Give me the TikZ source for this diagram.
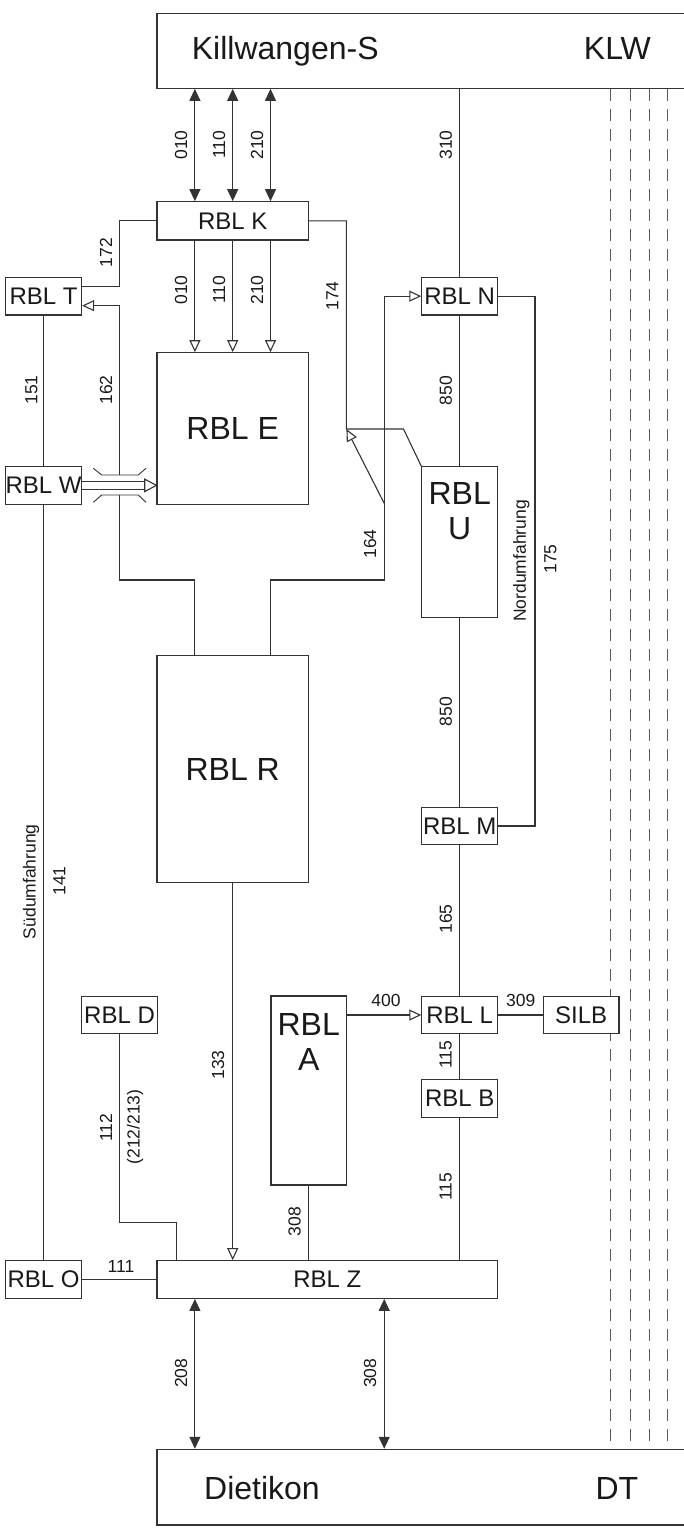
\documentclass[tikz,border=0pt]{standalone}
\usepackage{fontspec}
\setmainfont{Liberation Sans}
\usetikzlibrary{arrows.meta,calc}
\begin{document}
\begin{tikzpicture}[x=1pt,y=-1pt,
  ln/.style={line width=1.1pt, draw=black!80},
  box/.style={ln, rectangle, fill=white, inner sep=0pt, minimum width=75.9pt, minimum height=37.7pt, text=black!90, font=\fontsize{24}{28}\selectfont},
  big/.style={font=\fontsize{32}{36}\selectfont, inner sep=0pt, text=black!90},
  num/.style={font=\fontsize{17.5}{20}\selectfont, inner sep=0pt, text=black!90},
  vnum/.style={num, rotate=90},
  dbl/.style={ln, {Triangle[length=12pt,width=11pt]}-{Triangle[length=12pt,width=11pt]}},
  opn/.style={ln, -{Triangle[open,length=12pt,width=11pt]}},
  dsh/.style={line width=0.9pt, draw=black!65, dash pattern=on 12pt off 8pt},
]
\useasboundingbox (0,0) rectangle (684,1528);
\clip (0,0) rectangle (684,1528);
% column coordinates
\coordinate (c1) at (119.3,0);
\coordinate (c2) at (194.9,0);
\coordinate (c3) at (232.7,0);
\coordinate (c4) at (270.5,0);
\coordinate (c5) at (346.4,0);
\coordinate (c6) at (384.2,0);
\coordinate (c8) at (535,0);
\coordinate (d1) at (610.7,0);
\coordinate (d2) at (630,0);
\coordinate (d3) at (649,0);
\coordinate (d4) at (667.7,0);
% station boxes
\node[box, minimum width=563pt, minimum height=75pt] (KS) at (438.5,50.8) {};
\node[big, anchor=base west] (kst) at (191.7,59.3) {Killwangen-S};
\node[big, anchor=base west] (klw) at (583.7,59.3) {KLW};
\node[box, minimum width=563pt, minimum height=75.7pt] (DI) at (438.5,1487.15) {};
\node[big, anchor=base west] (dit) at (204,1499.3) {Dietikon};
\node[big, anchor=base west] (dtt) at (595.4,1499.3) {DT};
% dashed tracks
\draw[dsh] (KS.south -| d1) -- (DI.north -| d1);
\draw[dsh] (KS.south -| d2) -- (DI.north -| d2);
\draw[dsh] (KS.south -| d3) -- (DI.north -| d3);
\draw[dsh] (KS.south -| d4) -- (DI.north -| d4);
% blocks
\node[box, minimum width=151.4pt, minimum height=38.3pt] (K) at (232.7,220.85) {RBL K};
\node[box] (T) at (43.65,296.15) {RBL T};
\node[box] (N) at (459.75,296.15) {RBL N};
\node[box, minimum width=151.4pt, minimum height=151.6pt, font=\fontsize{32}{36}\selectfont] (E) at (232.7,428.5) {RBL E};
\node[box] (W) at (43.65,485.35) {RBL W};
\node[box, minimum height=151pt] (U) at (459.75,542.2) {};
\node[big, anchor=base] (ut1) at ($(U.north)+(0,38.5)$) {RBL};
\node[big, anchor=base] (ut2) at ($(U.north)+(0,73.5)$) {U};
\node[box, minimum width=151.4pt, minimum height=227pt, font=\fontsize{32}{36}\selectfont] (R) at (232.7,769.2) {RBL R};
\node[box] (M) at (459.75,826) {RBL M};
\node[box] (D) at (119.55,1015) {RBL D};
\node[box, minimum width=75.4pt, minimum height=189pt] (A) at (308.7,1090.5) {};
\node[big, anchor=base] (at1) at ($(A.north)+(0,40)$) {RBL};
\node[big, anchor=base] (at2) at ($(A.north)+(0,75)$) {A};
\node[box] (L) at (459.75,1015) {RBL L};
\node[box, minimum width=75.7pt] (S) at (581.15,1015) {SILB};
\node[box] (B) at (459.75,1098.3) {RBL B};
\node[box] (O) at (43.65,1279.5) {RBL O};
\node[box, minimum width=340.7pt] (Z) at (327.35,1279.5) {RBL Z};
% junction coordinates
\coordinate (j1) at (346.4,429);
\coordinate (j2) at (403.5,429);
\coordinate (s164) at (384.2,503.3);
\coordinate (b164) at (384.2,580);
\coordinate (b162) at (119.3,580);
\coordinate (br1) at (119.3,475);
\coordinate (br2) at (119.3,495);
\coordinate (b112) at (176.7,1222.7);
\path ($(T.east)+(0,-9.5)$) coordinate (t172);
\path ($(T.east)+(0,9.5)$) coordinate (t162);
% connectors top
\draw[dbl] (KS.south -| c2) -- (K.north -| c2);
\draw[dbl] (KS.south -| c3) -- (K.north -| c3);
\draw[dbl] (KS.south -| c4) -- (K.north -| c4);
\draw[ln] (KS.south -| N.north) -- (N.north);
\draw[opn] (K.south -| c2) -- (E.north -| c2);
\draw[opn] (K.south -| c3) -- (E.north -| c3);
\draw[opn] (K.south -| c4) -- (E.north -| c4);
\draw[ln] (K.west) -| (c1 |- t172) -- (t172);
\draw[ln] (K.east) -| (j1) -- (j2) -- (U.north west);
\draw[opn] (R.north -| c4) |- (b164) |- (N.west);
\draw[opn] (s164) -- (j1);
\draw[ln] (R.north -| c2) |- (b162) -- (br2);
\draw[opn] (br1) |- (t162);
% bridge
\draw[ln, line width=0.9pt] (93.3,468.3) -- (101.7,475) -- (138.3,475) -- (146,468.3);
\draw[ln, line width=0.9pt] (93.3,502.3) -- (101.7,495) -- (138.3,495) -- (146,502.3);
% double arrow W -> E
\path (W.east -| E.west) coordinate (wtip);
\draw[ln] ($(W.east)+(0,-4.15)$) -- ($(wtip)+(-11.7,-4.15)$);
\draw[ln] ($(W.east)+(0,4.15)$) -- ($(wtip)+(-11.7,4.15)$);
\draw[ln, line join=miter, fill=white] ($(wtip)+(-11.7,-6.2)$) -- (wtip) -- ($(wtip)+(-11.7,6.2)$) -- cycle;
% left column
\draw[ln] (T.south) -- (W.north);
\draw[ln] (W.south) -- (O.north);
% right column
\draw[ln] (N.south) -- (U.north);
\draw[ln] (U.south) -- (M.north);
\draw[ln] (M.south) -- (L.north);
\draw[ln] (L.south) -- (B.north);
\draw[ln] (B.south) -- (Z.north -| B.south);
\draw[ln] (N.east) -| (M.east -| c8) -- (M.east);
% bottom part
\draw[opn] (R.south) -- (Z.north -| R.south);
\draw[opn] (A.east |- L.west) -- (L.west);
\draw[ln] (L.east) -- (S.west);
\draw[ln] (A.south) -- (Z.north -| A.south);
\draw[ln] (D.south) |- (b112) -- (Z.north -| b112);
\draw[ln] (O.east) -- (Z.west);
\draw[dbl] (Z.south -| c2) -- (DI.north -| c2);
\draw[dbl] (Z.south -| c6) -- (DI.north -| c6);
% labels
\node[vnum] (l1) at (181,145) {010};
\node[vnum] (l2) at (219.2,145) {110};
\node[vnum] (l3) at (257,145) {210};
\node[vnum] (l4) at (445.8,145) {310};
\node[vnum] (l5) at (181,290) {010};
\node[vnum] (l6) at (219.2,290) {110};
\node[vnum] (l7) at (257,290) {210};
\node[vnum] (l8) at (106,252.5) {172};
\node[vnum] (l9) at (332.4,296) {174};
\node[vnum] (l10) at (31.5,390) {151};
\node[vnum] (l11) at (106,390) {162};
\node[vnum] (l12) at (445.8,390.7) {850};
\node[vnum] (l13) at (370,544) {164};
\node[vnum] (l14) at (521.3,561) {Nordumfahrung};
\node[vnum] (l15) at (550.5,559) {175};
\node[vnum] (l16) at (445.8,711.7) {850};
\node[vnum] (l17) at (31,881.7) {Südumfahrung};
\node[vnum] (l18) at (59.3,881) {141};
\node[vnum] (l19) at (445.8,919) {165};
\node[vnum] (l20) at (218,1065) {133};
\node[vnum] (l21) at (445.8,1055) {115};
\node[vnum] (l22) at (106,1127.5) {112};
\node[vnum] (l23) at (135,1127) {(212/213)};
\node[vnum] (l24) at (445.8,1187) {115};
\node[vnum] (l25) at (294.5,1221.7) {308};
\node[vnum] (l26) at (181,1373.3) {208};
\node[vnum] (l27) at (370,1373.3) {308};
\node[num] (l28) at (386,1000.7) {400};
\node[num] (l29) at (520.7,1000.7) {309};
\node[num] (l30) at (121,1266) {111};
\end{tikzpicture}
\end{document}
